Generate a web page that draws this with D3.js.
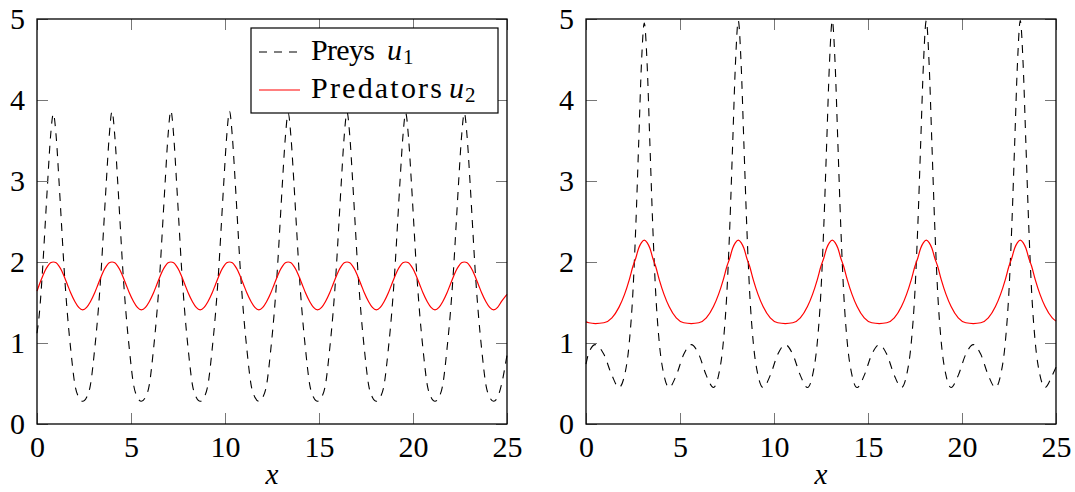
<!DOCTYPE html>
<html>
<head>
<meta charset="utf-8">
<title>Preys and predators</title>
<style>
body{margin:0;background:#fff;}
svg text{font-family:"Liberation Serif", "DejaVu Serif", "Noto Serif", "Times New Roman", Times, "Nimbus Roman", FreeSerif, serif;}
</style>
</head>
<body>
<script src="https://cdn.jsdelivr.net/npm/d3@7/dist/d3.min.js"></script>
<script>
var width = 1075, height = 492;
var xTicks = [0, 5, 10, 15, 20, 25];
var yTicks = [0, 1, 2, 3, 4, 5];
var legendNames = ["Preys", "Predators"];
var legendSubs = ["1", "2"];

var leftX = [0, 0.12, 0.31, 0.42, 0.57, 0.72, 0.87, 1.02, 1.17, 1.32, 1.43, 1.62, 1.79, 2.02, 2.22, 2.43,
  2.64, 2.84, 3.07, 3.24, 3.43, 3.54, 3.69, 3.84, 3.99, 4.14, 4.29, 4.44, 4.55, 4.74, 4.91, 5.14, 5.34, 5.55,
  5.77, 5.97, 6.2, 6.37, 6.56, 6.67, 6.82, 6.97, 7.12, 7.27, 7.42, 7.57, 7.68, 7.87, 8.04, 8.27, 8.47, 8.68,
  8.89, 9.09, 9.32, 9.49, 9.68, 9.79, 9.94, 10.09, 10.24, 10.39, 10.54, 10.69, 10.8, 10.99, 11.16, 11.39, 11.59, 11.8,
  12.01, 12.21, 12.44, 12.61, 12.8, 12.91, 13.06, 13.21, 13.36, 13.51, 13.66, 13.81, 13.92, 14.11, 14.28, 14.51, 14.71, 14.92,
  15.14, 15.34, 15.57, 15.74, 15.93, 16.04, 16.19, 16.34, 16.49, 16.64, 16.79, 16.94, 17.05, 17.24, 17.41, 17.64, 17.84, 18.05,
  18.26, 18.46, 18.69, 18.86, 19.05, 19.16, 19.31, 19.46, 19.61, 19.76, 19.91, 20.06, 20.17, 20.36, 20.53, 20.76, 20.96, 21.17,
  21.38, 21.58, 21.81, 21.98, 22.17, 22.28, 22.43, 22.58, 22.73, 22.88, 23.03, 23.18, 23.29, 23.48, 23.65, 23.88, 24.08, 24.29,
  24.5, 24.7, 25];
var leftPrey = [1.12, 1.35, 1.96, 2.4, 3.0, 3.55, 3.83, 3.55, 3.0, 2.4, 1.96, 1.35, 0.93, 0.48, 0.33, 0.28,
  0.33, 0.48, 0.93, 1.35, 1.96, 2.4, 3.0, 3.55, 3.86, 3.55, 3.0, 2.4, 1.96, 1.35, 0.93, 0.48, 0.33, 0.28,
  0.33, 0.48, 0.93, 1.35, 1.96, 2.4, 3.0, 3.56, 3.87, 3.56, 3.0, 2.4, 1.96, 1.35, 0.93, 0.48, 0.33, 0.28,
  0.33, 0.48, 0.93, 1.35, 1.96, 2.4, 3.0, 3.55, 3.86, 3.55, 3.0, 2.4, 1.96, 1.35, 0.93, 0.48, 0.33, 0.28,
  0.33, 0.48, 0.93, 1.35, 1.96, 2.4, 3.0, 3.54, 3.84, 3.54, 3.0, 2.4, 1.96, 1.35, 0.93, 0.48, 0.33, 0.28,
  0.33, 0.48, 0.93, 1.35, 1.96, 2.4, 3.0, 3.55, 3.85, 3.55, 3.0, 2.4, 1.96, 1.35, 0.93, 0.48, 0.33, 0.28,
  0.33, 0.48, 0.93, 1.35, 1.96, 2.4, 3.0, 3.54, 3.84, 3.54, 3.0, 2.4, 1.96, 1.35, 0.93, 0.48, 0.33, 0.28,
  0.33, 0.48, 0.93, 1.35, 1.96, 2.4, 3.0, 3.54, 3.84, 3.54, 3.0, 2.4, 1.96, 1.35, 0.93, 0.48, 0.33, 0.28,
  0.33, 0.48, 0.85];
var leftPred = [1.64, 1.72, 1.83, 1.89, 1.95, 1.99, 2.0, 1.99, 1.95, 1.89, 1.83, 1.72, 1.62, 1.51, 1.44, 1.41,
  1.44, 1.51, 1.62, 1.72, 1.83, 1.89, 1.95, 1.99, 2.0, 1.99, 1.95, 1.89, 1.83, 1.72, 1.62, 1.51, 1.44, 1.41,
  1.44, 1.51, 1.62, 1.72, 1.83, 1.89, 1.95, 1.99, 2.0, 1.99, 1.95, 1.89, 1.83, 1.72, 1.62, 1.51, 1.44, 1.41,
  1.44, 1.51, 1.62, 1.72, 1.83, 1.89, 1.95, 1.99, 2.0, 1.99, 1.95, 1.89, 1.83, 1.72, 1.62, 1.51, 1.44, 1.41,
  1.44, 1.51, 1.62, 1.72, 1.83, 1.89, 1.95, 1.99, 2.0, 1.99, 1.95, 1.89, 1.83, 1.72, 1.62, 1.51, 1.44, 1.41,
  1.44, 1.51, 1.62, 1.72, 1.83, 1.89, 1.95, 1.99, 2.0, 1.99, 1.95, 1.89, 1.83, 1.72, 1.62, 1.51, 1.44, 1.41,
  1.44, 1.51, 1.62, 1.72, 1.83, 1.89, 1.95, 1.99, 2.0, 1.99, 1.95, 1.89, 1.83, 1.72, 1.62, 1.51, 1.44, 1.41,
  1.44, 1.51, 1.62, 1.72, 1.83, 1.89, 1.95, 1.99, 2.0, 1.99, 1.95, 1.89, 1.83, 1.72, 1.62, 1.51, 1.44, 1.41,
  1.44, 1.51, 1.6];

var rightX = [0, 0.15, 0.5, 0.95, 1.38, 1.75, 2.05, 2.3, 2.5, 2.65, 2.8, 2.95, 3.1, 3.25, 3.4, 3.55, 3.7, 3.9, 4.15, 4.42, 4.8, 5.2,
  5.6, 6.0, 6.4, 6.78, 7.05, 7.3, 7.5, 7.65, 7.8, 7.95, 8.1, 8.25, 8.4, 8.55, 8.7, 8.9, 9.15, 9.42, 9.8, 10.2,
  10.6, 11.0, 11.4, 11.78, 12.05, 12.3, 12.5, 12.65, 12.8, 12.95, 13.1, 13.25, 13.4, 13.55, 13.7, 13.9, 14.15, 14.42, 14.8, 15.2,
  15.6, 16.0, 16.4, 16.78, 17.05, 17.3, 17.5, 17.65, 17.8, 17.95, 18.1, 18.25, 18.4, 18.55, 18.7, 18.9, 19.15, 19.42, 19.8, 20.2,
  20.6, 21.0, 21.4, 21.78, 22.05, 22.3, 22.5, 22.65, 22.8, 22.95, 23.1, 23.25, 23.4, 23.55, 23.7, 23.9, 24.15, 24.42, 24.8, 25];
var rightPrey = [0.74, 0.88, 0.98, 0.86, 0.6, 0.45, 0.6, 1.0, 1.65, 2.45, 3.45, 4.45, 4.95, 4.45, 3.45, 2.45, 1.65, 1.0, 0.6, 0.45, 0.6, 0.86,
  0.98, 0.86, 0.6, 0.45, 0.6, 1.0, 1.65, 2.45, 3.45, 4.45, 4.98, 4.45, 3.45, 2.45, 1.65, 1.0, 0.6, 0.45, 0.6, 0.86,
  0.98, 0.86, 0.6, 0.45, 0.6, 1.0, 1.65, 2.45, 3.45, 4.45, 4.98, 4.45, 3.45, 2.45, 1.65, 1.0, 0.6, 0.45, 0.6, 0.86,
  0.98, 0.86, 0.6, 0.45, 0.6, 1.0, 1.65, 2.45, 3.45, 4.45, 4.98, 4.45, 3.45, 2.45, 1.65, 1.0, 0.6, 0.45, 0.6, 0.86,
  0.98, 0.86, 0.6, 0.45, 0.6, 1.0, 1.65, 2.45, 3.45, 4.45, 4.98, 4.45, 3.45, 2.45, 1.65, 1.0, 0.6, 0.45, 0.6, 0.7];
var rightPred = [1.26, 1.25, 1.24, 1.25, 1.31, 1.44, 1.6, 1.78, 1.95, 2.05, 2.17, 2.24, 2.27, 2.24, 2.17, 2.05, 1.95, 1.78, 1.6, 1.45, 1.31, 1.25,
  1.24, 1.25, 1.31, 1.45, 1.6, 1.78, 1.95, 2.05, 2.17, 2.24, 2.27, 2.24, 2.17, 2.05, 1.95, 1.78, 1.6, 1.45, 1.31, 1.25,
  1.24, 1.25, 1.31, 1.45, 1.6, 1.78, 1.95, 2.05, 2.17, 2.24, 2.27, 2.24, 2.17, 2.05, 1.95, 1.78, 1.6, 1.45, 1.31, 1.25,
  1.24, 1.25, 1.31, 1.45, 1.6, 1.78, 1.95, 2.05, 2.17, 2.24, 2.27, 2.24, 2.17, 2.05, 1.95, 1.78, 1.6, 1.45, 1.31, 1.25,
  1.24, 1.25, 1.31, 1.45, 1.6, 1.78, 1.95, 2.05, 2.17, 2.24, 2.27, 2.24, 2.17, 2.05, 1.95, 1.78, 1.6, 1.45, 1.31, 1.27];

var top_ = 19, bottom = 424;

var svg = d3.select("body")
  .append("svg")
  .attr("width", width)
  .attr("height", height);

function styleAxis(g) {
  g.attr("font-family", null).attr("font-size", 30);
  g.select(".domain").remove();
  g.selectAll(".tick line").attr("stroke", "#777").attr("stroke-width", 1);
  g.selectAll(".tick text").attr("fill", "#000");
}

function panel(x0, x1, xs, prey, pred, withLegend) {
  var x = d3.scaleLinear().domain([0, 25]).range([x0, x1]);
  var y = d3.scaleLinear().domain([0, 5]).range([bottom, top_]);
  var g = svg.append("g");

  var line = d3.line()
    .x(function(d, i) { return x(xs[i]); })
    .y(function(d) { return y(d); })
    .curve(d3.curveMonotoneX);

  g.append("path")
    .attr("d", line(prey))
    .attr("fill", "none")
    .attr("stroke", "#000")
    .attr("stroke-width", 1.1)
    .attr("stroke-dasharray", "8,7");
  g.append("path")
    .attr("d", line(pred))
    .attr("fill", "none")
    .attr("stroke", "#ff0000")
    .attr("stroke-width", 1.2);

  // ticks point inwards on all four sides
  var fmt = d3.format("d");
  g.append("g").attr("transform", "translate(0," + bottom + ")")
    .call(d3.axisBottom(x).tickValues(xTicks).tickFormat(fmt).tickSizeInner(-11).tickSizeOuter(0).tickPadding(12))
    .call(styleAxis);
  g.append("g").attr("transform", "translate(0," + top_ + ")")
    .call(d3.axisTop(x).tickValues(xTicks).tickSizeInner(-11).tickSizeOuter(0).tickFormat(""))
    .call(styleAxis);
  g.append("g").attr("transform", "translate(" + x0 + ",0)")
    .call(d3.axisLeft(y).tickValues(yTicks).tickFormat(fmt).tickSizeInner(-11).tickSizeOuter(0).tickPadding(12))
    .call(styleAxis);
  g.append("g").attr("transform", "translate(" + x1 + ",0)")
    .call(d3.axisRight(y).tickValues(yTicks).tickSizeInner(-11).tickSizeOuter(0).tickFormat(""))
    .call(styleAxis);

  g.append("rect")
    .attr("x", x0).attr("y", top_)
    .attr("width", x1 - x0).attr("height", bottom - top_)
    .attr("fill", "none").attr("stroke", "#000").attr("stroke-width", 1.3);

  g.append("text")
    .attr("x", (x0 + x1) / 2).attr("y", 484)
    .attr("text-anchor", "middle")
    .attr("font-size", 29).attr("font-style", "italic")
    .text("x");

  if (withLegend) {
    var lg = g.append("g");
    lg.append("rect")
      .attr("x", 251).attr("y", 28).attr("width", 247).attr("height", 85)
      .attr("fill", "#fff").attr("stroke", "#000").attr("stroke-width", 1.2);
    var rows = [{y: 60, u: 387, len: 64, dash: "8,7", col: "#000"},
                {y: 98, u: 449, len: 131, dash: null, col: "#ff0000"}];
    rows.forEach(function(r, i) {
      lg.append("line")
        .attr("x1", 259).attr("x2", 300).attr("y1", r.y - 8).attr("y2", r.y - 8)
        .attr("stroke", r.col).attr("stroke-width", 1.2)
        .attr("stroke-dasharray", r.dash);
      lg.append("text")
        .attr("x", 311).attr("y", r.y)
        .attr("font-size", 30)
        .attr("textLength", r.len).attr("lengthAdjust", "spacing")
        .text(legendNames[i]);
      var t = lg.append("text")
        .attr("x", r.u).attr("y", r.y)
        .attr("font-size", 30);
      t.append("tspan").attr("font-style", "italic").text("u");
      t.append("tspan").attr("font-size", 21).attr("dy", 4).attr("dx", 1).text(legendSubs[i]);
    });
  }
}

panel(37, 507, leftX, leftPrey, leftPred, true);
panel(586, 1056, rightX, rightPrey, rightPred, false);
</script>
</body>
</html>
